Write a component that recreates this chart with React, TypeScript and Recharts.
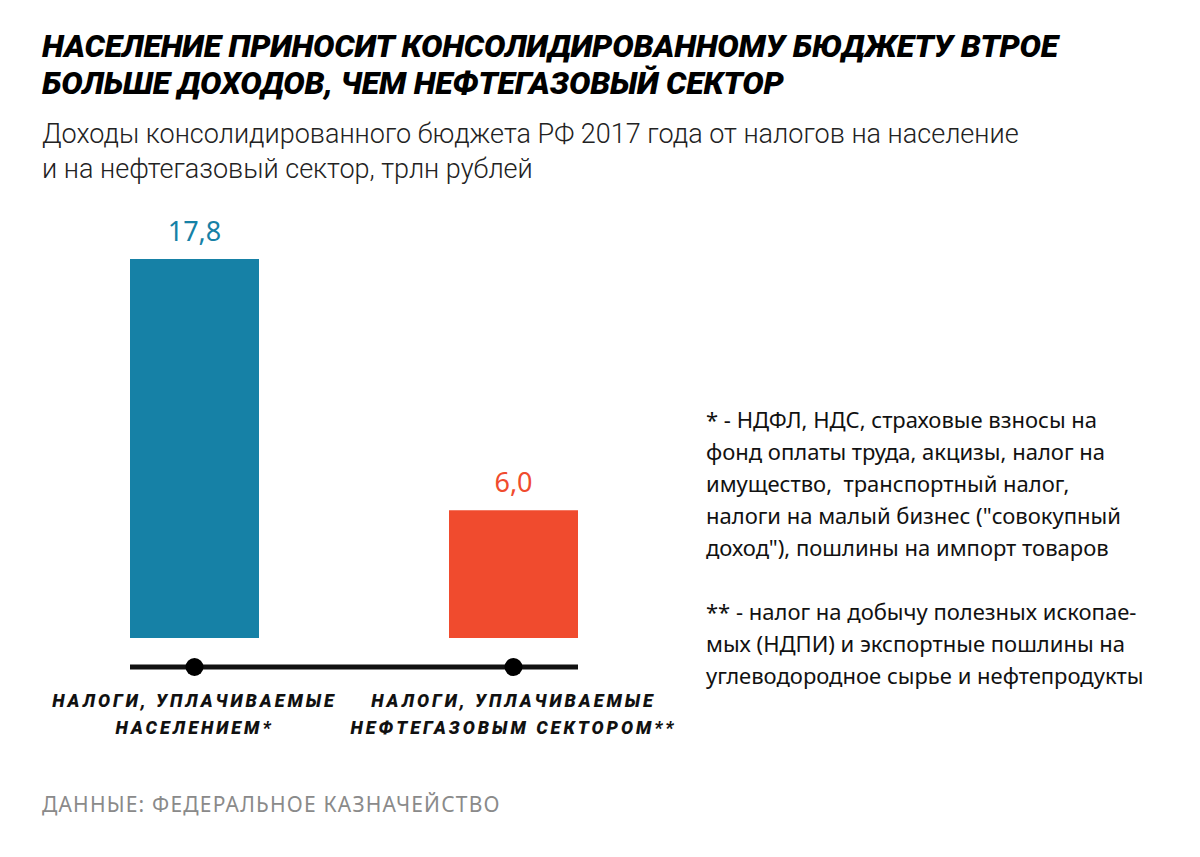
import React from "react";
import { BarChart, Bar, XAxis, YAxis, Cell, LabelList } from "recharts";

const categories = ["НАЛОГИ, УПЛАЧИВАЕМЫЕ|НАСЕЛЕНИЕМ*", "НАЛОГИ, УПЛАЧИВАЕМЫЕ|НЕФТЕГАЗОВЫМ СЕКТОРОМ**"];
const values = [17.8, 6.0];
const barColors = ["#1681a6", "#f04b2e"];

const data = categories.map((name, i) => ({ name, value: values[i] }));

const footnote1 = [
  "* - НДФЛ, НДС, страховые взносы на",
  "фонд оплаты труда, акцизы, налог на",
  "имущество,  транспортный налог,",
  "налоги на малый бизнес (\"совокупный",
  "доход\"), пошлины на импорт товаров",
];
const footnote2 = [
  "** - налог на добычу полезных ископае-",
  "мых (НДПИ) и экспортные пошлины на",
  "углеводородное сырье и нефтепродукты",
];

const CategoryTick = (props: any) => {
  const { x, y, payload } = props;
  const lines = String(payload.value).split("|");
  return (
    <g>
      <circle cx={x} cy={y} r={9} fill="#000" />
      {lines.map((l, i) => (
        <text
          key={i}
          x={x}
          y={y + 40 + i * 27}
          textAnchor="middle"
          fontFamily="Roboto, sans-serif"
          fontWeight={900}
          fontStyle="italic"
          fontSize={18}
          letterSpacing={3}
          fill="#111"
        >
          {l}
        </text>
      ))}
    </g>
  );
};

const renderValue = (props: any) => {
  const { x, y, width, value, index } = props;
  return (
    <text
      x={x + width / 2}
      y={y - 18}
      textAnchor="middle"
      fontFamily="'Noto Sans', sans-serif"
      fontSize={27}
      fill={barColors[index]}
    >
      {String(value.toFixed(1)).replace(".", ",")}
    </text>
  );
};

export default function App() {
  return (
    <div style={{ position: "absolute", left: 0, top: 0, width: 1200, height: 857, background: "#fff", overflow: "hidden" }}>
      <div
        style={{
          position: "absolute",
          left: 42,
          top: 28,
          fontFamily: "Roboto, sans-serif",
          fontWeight: 900,
          fontStyle: "italic",
          fontSize: 32,
          letterSpacing: -0.2,
          lineHeight: "37px",
          color: "#000",
          whiteSpace: "nowrap",
        }}
      >
        НАСЕЛЕНИЕ ПРИНОСИТ КОНСОЛИДИРОВАННОМУ БЮДЖЕТУ ВТРОЕ
        <br />
        БОЛЬШЕ ДОХОДОВ, ЧЕМ НЕФТЕГАЗОВЫЙ СЕКТОР
      </div>
      <div
        style={{
          position: "absolute",
          left: 42,
          top: 117,
          fontFamily: "Roboto, sans-serif",
          fontWeight: 300,
          fontSize: 27,
          lineHeight: "35px",
          color: "#222",
          whiteSpace: "nowrap",
        }}
      >
        Доходы консолидированного бюджета РФ 2017 года от налогов на население
        <br />
        и на нефтегазовый сектор, трлн рублей
      </div>
      <div style={{ position: "absolute", left: 0, top: 0 }}>
        <BarChart width={1200} height={857} data={data} margin={{ top: 200, right: 622, bottom: 160, left: 130 }}>
          <YAxis hide domain={[-1.36, 20.57]} />
          <XAxis
            dataKey="name"
            height={30}
            padding={{ left: -95, right: -95 }}
            axisLine={{ stroke: "#111", strokeWidth: 5 }}
            tickLine={false}
            tickSize={0}
            tickMargin={0}
            tick={<CategoryTick />}
            interval={0}
          />
          <Bar dataKey="value" barSize={129} isAnimationActive={false}>
            {data.map((d, i) => (
              <Cell key={d.name} fill={barColors[i]} />
            ))}
            <LabelList dataKey="value" content={renderValue} />
          </Bar>
        </BarChart>
      </div>
      <div
        style={{
          position: "absolute",
          left: 706,
          top: 403,
          fontFamily: "'Noto Sans', sans-serif",
          fontSize: 22,
          lineHeight: "32px",
          color: "#111",
        }}
      >
        {footnote1.map((l) => (
          <div key={l} style={{ whiteSpace: "pre" }}>{l}</div>
        ))}
        <div style={{ height: 32 }} />
        {footnote2.map((l) => (
          <div key={l} style={{ whiteSpace: "pre" }}>{l}</div>
        ))}
      </div>
      <div
        style={{
          position: "absolute",
          left: 42,
          top: 790,
          fontFamily: "'Noto Sans', sans-serif",
          fontSize: 21,
          letterSpacing: 1.2,
          color: "#8a8a8a",
          whiteSpace: "nowrap",
        }}
      >
        ДАННЫЕ: ФЕДЕРАЛЬНОЕ КАЗНАЧЕЙСТВО
      </div>
    </div>
  );
}
